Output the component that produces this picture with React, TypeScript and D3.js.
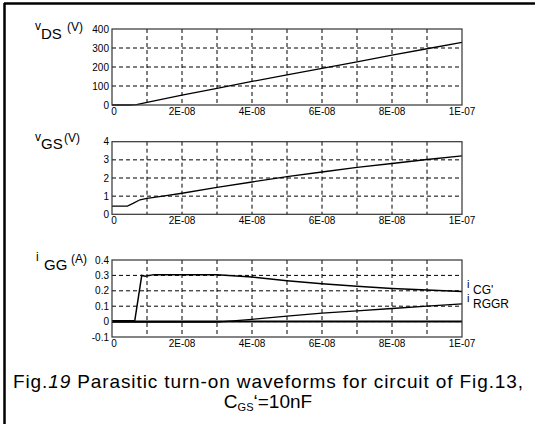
import React from "react";
import * as d3 from "d3";

const timeTicks = [0, 2e-8, 4e-8, 6e-8, 8e-8, 1e-7];
const timeTickLabels = ["0", "2E-08", "4E-08", "6E-08", "8E-08", "1E-07"];
const gridTimes = [1e-8, 2e-8, 3e-8, 4e-8, 5e-8, 6e-8, 7e-8, 8e-8, 9e-8];

const vdsT = [0, 5e-9, 7e-9, 1e-8, 2e-8, 3e-8, 4e-8, 5e-8, 6e-8, 7e-8, 8e-8, 9e-8, 1e-7];
const vdsV = [0, 0, 2, 14, 52, 88, 124, 158, 193, 227, 262, 296, 330];

const vgsT = [0, 4.4e-9, 6e-9, 8e-9, 1e-8, 1.5e-8, 2e-8, 3e-8, 4e-8, 5e-8, 6e-8, 7e-8, 8e-8, 9e-8, 1e-7];
const vgsV = [0.45, 0.45, 0.6, 0.8, 0.88, 1.02, 1.16, 1.48, 1.78, 2.07, 2.33, 2.58, 2.8, 3.02, 3.22];

const icgT = [0, 6.5e-9, 8.5e-9, 9.5e-9, 1.2e-8, 3e-8, 4e-8, 5e-8, 6e-8, 7e-8, 8e-8, 9e-8, 1e-7];
const icgV = [0.005, 0.005, 0.3, 0.295, 0.305, 0.305, 0.29, 0.265, 0.245, 0.23, 0.215, 0.205, 0.195];

const irgT = [0, 3e-8, 4e-8, 5e-8, 6e-8, 7e-8, 8e-8, 9e-8, 1e-7];
const irgV = [-0.004, -0.004, 0.015, 0.035, 0.055, 0.07, 0.085, 0.1, 0.115];

const zeroT = [0, 1e-7];
const zeroV = [0, 0];

const vdsTicks = [0, 100, 200, 300, 400];
const vgsTicks = [0, 1, 2, 3, 4];
const iggTicks = [-0.1, 0, 0.1, 0.2, 0.3, 0.4];
const iggTickLabels = ["-0.1", "0", "0.1", "0.2", "0.3", "0.4"];

const X0 = 112;
const X1 = 462;
const font = "Liberation Sans, Arial, sans-serif";

type Series = { t: number[]; v: number[]; w?: number };

function Panel(props: {
  top: number;
  bottom: number;
  domain: [number, number];
  ticks: number[];
  tickLabels: string[];
  series: Series[];
}) {
  const x = d3.scaleLinear().domain([0, 1e-7]).range([X0, X1]);
  const y = d3.scaleLinear().domain(props.domain).range([props.bottom, props.top]);
  const line = d3
    .line<[number, number]>()
    .x((d) => x(d[0]))
    .y((d) => y(d[1]));
  return (
    <g>
      {gridTimes.map((t, i) => (
        <line key={"gv" + i} x1={x(t)} x2={x(t)} y1={props.top} y2={props.bottom} stroke="#000" strokeWidth={1} strokeDasharray="4,3" />
      ))}
      {props.ticks.slice(1, -1).map((v, i) => (
        <line key={"gh" + i} x1={X0} x2={X1} y1={y(v)} y2={y(v)} stroke="#000" strokeWidth={1} strokeDasharray="4,3" />
      ))}
      {props.series.map((s, i) => (
        <path
          key={"s" + i}
          d={line(s.t.map((t, j) => [t, s.v[j]] as [number, number])) || ""}
          fill="none"
          stroke="#000"
          strokeWidth={s.w ?? 1.3}
        />
      ))}
      <rect x={X0} y={props.top} width={X1 - X0} height={props.bottom - props.top} fill="none" stroke="#333" strokeWidth={1.2} />
      {props.ticks.map((v, i) => (
        <text key={"yl" + i} x={X0 - 3} y={y(v) + 3.5} textAnchor="end" fontSize={10} fontFamily={font} fill="#000">
          {props.tickLabels[i]}
        </text>
      ))}
      {timeTicks.map((t, i) => (
        <text key={"xl" + i} x={x(t) + (i === 0 ? 2 : 0)} y={props.bottom + 10} textAnchor="middle" fontSize={10} fontFamily={font} fill="#000">
          {timeTickLabels[i]}
        </text>
      ))}
    </g>
  );
}

export default function App() {
  return (
    <svg width={535} height={424} style={{ position: "absolute", left: 0, top: 0, background: "#fff" }}>
      <rect x={0} y={0} width={535} height={424} fill="#fff" />
      <line x1={4} x2={535} y1={3.5} y2={3.5} stroke="#000" strokeWidth={2.5} />
      <line x1={4.5} x2={4.5} y1={3} y2={424} stroke="#000" strokeWidth={2.5} />

      <Panel top={29} bottom={105} domain={[0, 400]} ticks={vdsTicks} tickLabels={vdsTicks.map(String)} series={[{ t: vdsT, v: vdsV }]} />
      <Panel top={141.7} bottom={214.3} domain={[0, 4]} ticks={vgsTicks} tickLabels={vgsTicks.map(String)} series={[{ t: vgsT, v: vgsV }]} />
      <Panel
        top={260}
        bottom={337}
        domain={[-0.1, 0.4]}
        ticks={iggTicks}
        tickLabels={iggTickLabels}
        series={[
          { t: zeroT, v: zeroV, w: 2 },
          { t: irgT, v: irgV },
          { t: icgT, v: icgV, w: 1.5 },
        ]}
      />

      <g fontFamily={font} fill="#000">
        <text x={35} y={30} fontSize={12}>v</text>
        <text x={41} y={39} fontSize={15}>DS</text>
        <text x={67} y={31} fontSize={12}>(V)</text>

        <text x={35} y={141} fontSize={12}>v</text>
        <text x={41} y={149} fontSize={15}>GS</text>
        <text x={64} y={142} fontSize={12}>(V)</text>

        <text x={36} y={261} fontSize={12}>i</text>
        <text x={44} y={270} fontSize={15}>GG</text>
        <text x={71} y={263} fontSize={12}>(A)</text>

        <text x={467} y={288} fontSize={11}>i</text>
        <text x={473} y={294} fontSize={12}>CG'</text>
        <text x={467} y={302} fontSize={11}>i</text>
        <text x={473} y={308} fontSize={12}>RGGR</text>

        <text x={13} y={388} fontSize={19} textLength={510} lengthAdjust="spacing">
          Fig.<tspan fontStyle="italic">19</tspan> Parasitic turn-on waveforms for circuit of Fig.13,
        </text>
        <text x={268} y={408} fontSize={19} textAnchor="middle">
          C<tspan fontSize={11} dy={3}>GS</tspan><tspan dy={-3}>‘=10nF</tspan>
        </text>
      </g>
    </svg>
  );
}
